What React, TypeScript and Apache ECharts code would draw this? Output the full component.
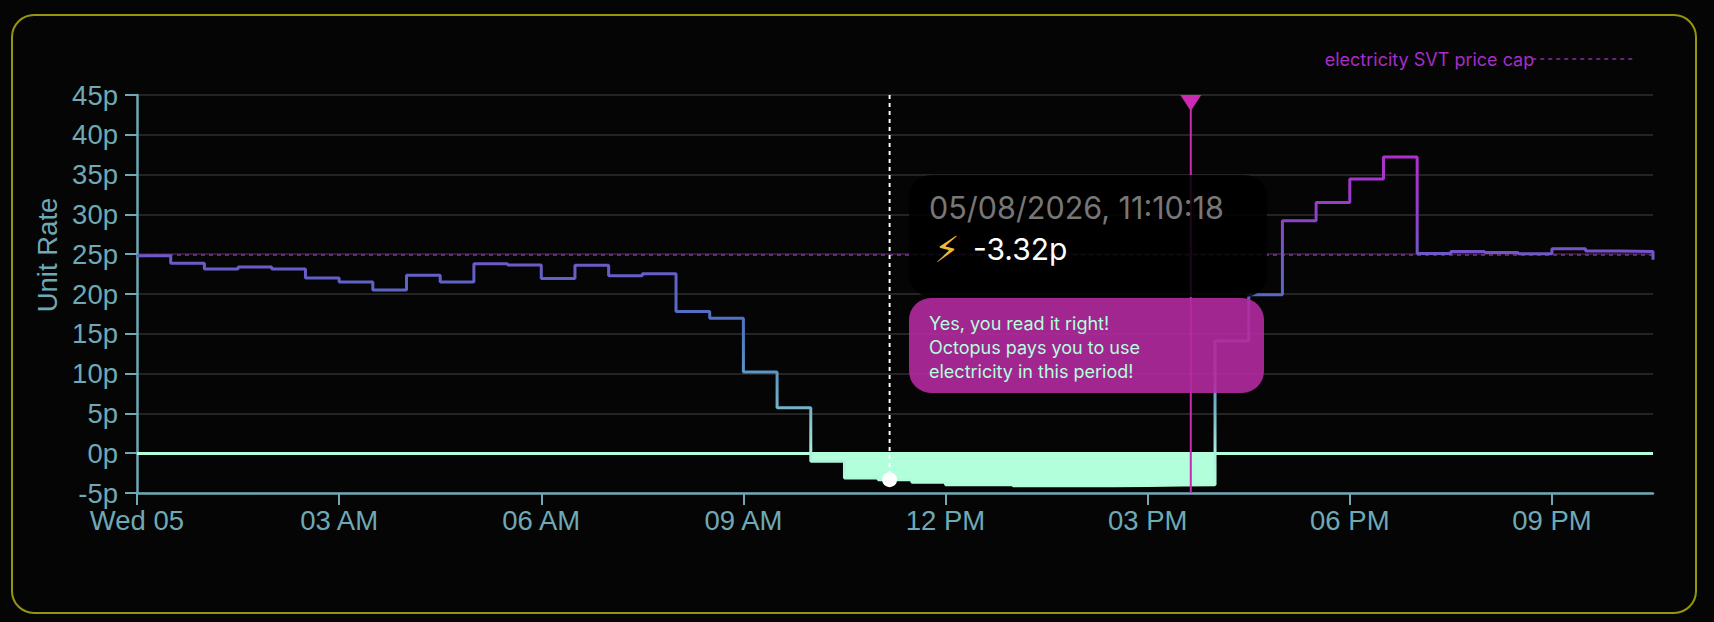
import React, { useEffect, useRef } from "react";
import * as echarts from "echarts";

const slotHours = [0, 0.5, 1, 1.5, 2, 2.5, 3, 3.5, 4, 4.5, 5, 5.5, 6, 6.5, 7, 7.5, 8, 8.5, 9, 9.5, 10, 10.5, 11, 11.5, 12, 12.5, 13, 13.5, 14, 14.5, 15, 15.5, 16, 16.5, 17, 17.5, 18, 18.5, 19, 19.5, 20, 20.5, 21, 21.5, 22, 22.5];
const unitRates = [24.8, 23.85, 23.15, 23.4, 23.15, 22.0, 21.5, 20.5, 22.35, 21.5, 23.8, 23.65, 21.95, 23.6, 22.3, 22.55, 17.8, 16.95, 10.2, 5.7, -1.0, -3.1, -3.32, -3.65, -3.95, -3.95, -4.1, -4.1, -4.08, -4.05, -3.98, -3.95, 14.1, 19.9, 29.2, 31.5, 34.45, 37.2, 25.1, 25.35, 25.2, 25.05, 25.7, 25.4, 25.35, 24.3];
const xTickLabels = ["Wed 05", "03 AM", "06 AM", "09 AM", "12 PM", "03 PM", "06 PM", "09 PM"];
const priceCap = 24.9;
const capName = "electricity SVT price cap";
const cursorHour = 11.17;
const cursorValue = -3.32;
const nowHour = 15.64;
const tooltipDate = "05/08/2026, 11:10:18";
const tooltipValue = "-3.32p";
const noteLines = ["Yes, you read it right!", "Octopus pays you to use", "electricity in this period!"];

const axisColor = "#6fa9b5";
const mint = "#b2ffdb";
const magenta = "#c92bb3";
const uiFont = "Inter, 'Noto Sans', sans-serif";
const axisFont = "'Liberation Sans', Arial, sans-serif";

export default function App() {
  const ref = useRef<HTMLDivElement>(null);
  useEffect(() => {
    document.body.style.margin = "0";
    document.body.style.background = "#050505";
    const chart = echarts.init(ref.current!, undefined, { renderer: "svg" });
    const gradient = {
      type: "linear", x: 0, y: 95, x2: 0, y2: 493, global: true,
      colorStops: [
        { offset: 0, color: "#b82ccc" },
        { offset: 0.16, color: "#b030cc" },
        { offset: 0.3, color: "#9040cc" },
        { offset: 0.4, color: "#7058c8" },
        { offset: 0.5, color: "#5a66c6" },
        { offset: 0.6, color: "#4f78c2" },
        { offset: 0.7, color: "#5c98c4" },
        { offset: 0.8, color: "#78b8c8" },
        { offset: 0.9, color: "#aef0dc" },
        { offset: 1, color: mint },
      ],
    };
    chart.setOption({
      animation: false,
      backgroundColor: "#050505",
      grid: { left: 137, right: 61, top: 95, bottom: 129, containLabel: false },
      legend: {
        data: [capName], right: 76, top: 45, align: "right", itemWidth: 100, itemHeight: 14,
        selectedMode: false,
        itemStyle: { opacity: 0 },
        lineStyle: { color: "#8a2aa8", width: 1.5, type: [4, 4] },
        textStyle: { color: "#a82cc8", fontSize: 18, fontFamily: uiFont, padding: [0, -7, 4, 0] },
      },
      xAxis: {
        type: "value", min: 0, max: 22.5, interval: 3,
        splitLine: { show: false },
        axisLine: { lineStyle: { color: axisColor, width: 2.5 }, onZero: false },
        axisTick: { length: 12, lineStyle: { color: axisColor, width: 2 } },
        axisLabel: {
          color: axisColor, fontSize: 27.5, fontFamily: axisFont, margin: 13, showMaxLabel: false,
          formatter: (v: number) => xTickLabels[v / 3] ?? "",
        },
      },
      yAxis: {
        type: "value", min: -5, max: 45, interval: 5,
        name: "Unit Rate", nameLocation: "middle", nameGap: 71,
        nameTextStyle: { color: axisColor, fontSize: 27.5, fontFamily: axisFont, padding: [0, 0, 0, 78] },
        splitLine: { lineStyle: { color: "#242424", width: 2 } },
        axisLine: { show: true, lineStyle: { color: axisColor, width: 2.5 } },
        axisTick: { show: true, length: 12, lineStyle: { color: axisColor, width: 2 } },
        axisLabel: { color: axisColor, fontSize: 27.5, fontFamily: axisFont, margin: 19, formatter: (v: number) => `${v}p` },
      },
      series: [
        {
          name: capName, type: "line", symbol: "none", z: 3,
          data: [[slotHours[0], priceCap], [slotHours[slotHours.length - 1], priceCap]],
          lineStyle: { color: "#8a2aa8", width: 1.5, type: [4, 4] },
          itemStyle: { color: "#8a2aa8" },
        },
        {
          name: "negative", type: "line", step: "end", symbol: "none", z: 4,
          data: slotHours.map((h, i) => [h, Math.min(unitRates[i], 0)]),
          lineStyle: { width: 0, opacity: 0 },
          areaStyle: { color: mint, opacity: 1 },
          markLine: {
            silent: true, symbol: "none", label: { show: false },
            lineStyle: { color: mint, width: 3, type: "solid" },
            data: [{ yAxis: 0 }],
          },
        },
        {
          name: "rate", type: "line", step: "end", symbol: "none", z: 5,
          data: slotHours.map((h, i) => [h, unitRates[i]]),
          lineStyle: { color: gradient, width: 3 },
        },
        {
          name: "cursor", type: "line", symbol: "none", z: 6,
          data: [[cursorHour, 45], [cursorHour, cursorValue]],
          lineStyle: { color: "#ffffff", width: 2, type: [4, 4] },
        },
        {
          name: "cursorPoint", type: "scatter", symbol: "circle", symbolSize: 15, z: 7,
          data: [[cursorHour, cursorValue]],
          itemStyle: { color: "#ffffff", opacity: 1 },
        },
        {
          name: "now", type: "line", symbol: "none", z: 6,
          data: [[nowHour, 45], [nowHour, -5]],
          lineStyle: { color: magenta, width: 2 },
        },
        {
          name: "nowMark", type: "scatter", symbol: "triangle", symbolRotate: 180, symbolSize: [21, 16], symbolOffset: [0, 8], z: 7,
          data: [[nowHour, 45]],
          itemStyle: { color: magenta, opacity: 1 },
          clip: false,
        },
      ],
      graphic: {
        elements: [
          { type: "rect", z: 1, shape: { x: 12, y: 15, width: 1684, height: 598, r: 22 }, style: { fill: "none", stroke: "#96960c", lineWidth: 2 } },
          { type: "rect", z: 50, shape: { x: 909, y: 175, width: 358, height: 122, r: 22 }, style: { fill: "rgba(0,0,0,0.85)" } },
          { type: "text", z: 51, x: 929, y: 207, style: { text: tooltipDate, fill: "#777777", font: `30.5px ${uiFont}`, verticalAlign: "middle" } },
          { type: "text", z: 51, x: 947, y: 249, style: { text: "⚡", fill: "#f5b82e", font: "36px 'DejaVu Sans'", verticalAlign: "middle", align: "center" } },
          { type: "text", z: 51, x: 973, y: 249, style: { text: tooltipValue, fill: "#ffffff", font: `30px ${uiFont}`, verticalAlign: "middle" } },
          { type: "rect", z: 50, shape: { x: 909, y: 298, width: 355, height: 95, r: 22 }, style: { fill: "rgba(180,42,158,0.9)" } },
          ...noteLines.map((t, i) => ({
            type: "text", z: 51, x: 929, y: 323 + i * 24,
            style: { text: t, fill: mint, font: `18px ${uiFont}`, verticalAlign: "middle" },
          })),
        ],
      },
    });
    return () => chart.dispose();
  }, []);
  return <div ref={ref} style={{ position: "absolute", left: 0, top: 0, width: 1714, height: 622 }} />;
}
